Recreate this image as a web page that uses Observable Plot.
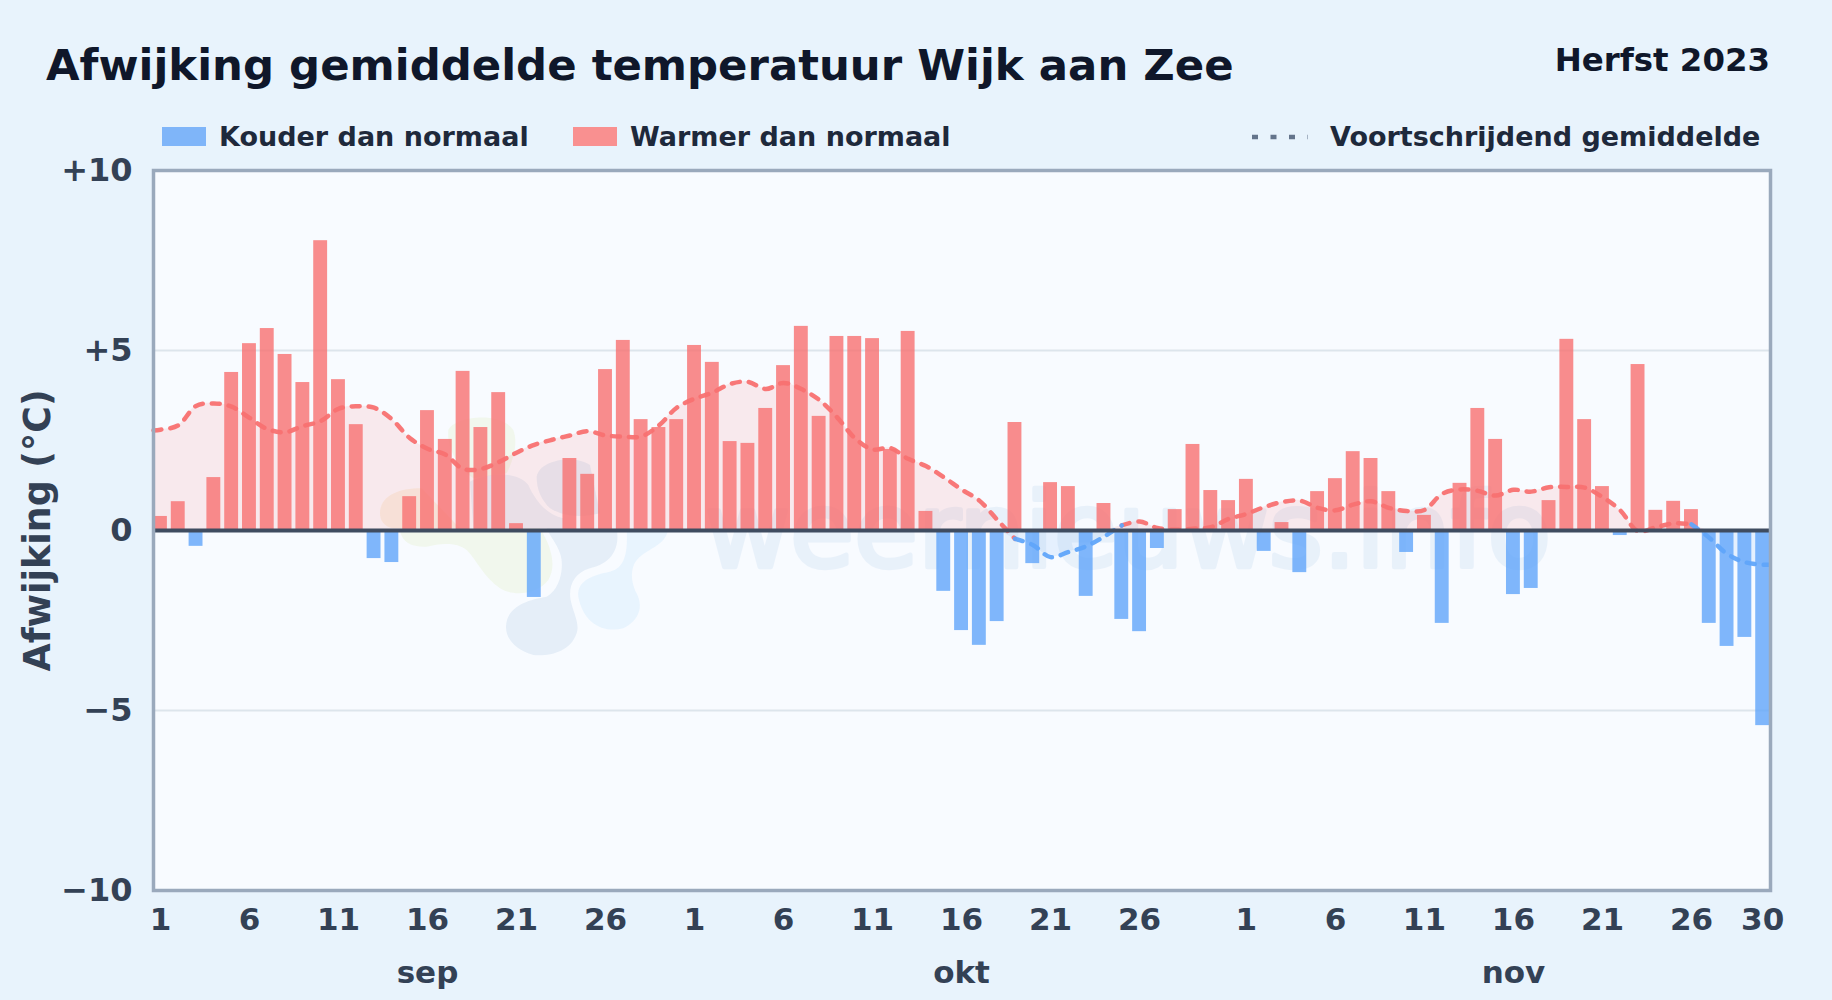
<!DOCTYPE html>
<html><head><meta charset="utf-8">
<script src="https://cdn.jsdelivr.net/npm/d3@7"></script>
<script src="https://cdn.jsdelivr.net/npm/@observablehq/plot@0.6"></script>
<style>
html,body{margin:0;padding:0;width:1832px;height:1000px;overflow:hidden;background:#e8f3fc;font-family:"DejaVu Sans",sans-serif;font-weight:700}
#head{position:relative;height:165px}
#head div,#head span.t{position:absolute;white-space:nowrap}
.sw{position:absolute;top:127px;width:44px;height:19px}
.leg{position:absolute;font-size:27px;line-height:30px;top:122px;color:#1e293b;white-space:nowrap}
svg.plot{display:block}
</style></head><body>
<div id="head">
<div style="left:46px;top:38px;font-size:43.4px;line-height:54px;color:#0f172a">Afwijking gemiddelde temperatuur Wijk aan Zee</div>
<div style="right:62px;top:41px;font-size:32.4px;line-height:38px;color:#0f172a">Herfst 2023</div>
<span class="sw" style="left:162px;background:#7fb5f9"></span><span class="leg" style="left:219px">Kouder dan normaal</span>
<span class="sw" style="left:573px;background:#f99090"></span><span class="leg" style="left:630px">Warmer dan normaal</span>
<svg width="60" height="10" style="position:absolute;left:1250px;top:132px"><line x1="2" x2="58" y1="5" y2="5" stroke="#64748b" stroke-width="4.5" stroke-dasharray="6 12.5"/></svg>
<span class="leg" style="left:1330px">Voortschrijdend gemiddelde</span>
</div>
<div id="chart"></div>
<script>
const deviations = [0.39,0.80,-0.44,1.47,4.39,5.19,5.61,4.89,4.11,8.05,4.19,2.94,-0.78,-0.89,0.94,3.33,2.53,4.42,2.86,3.83,0.19,-1.86,0,2.00,1.56,4.47,5.28,3.08,2.86,3.08,
5.14,4.67,2.47,2.42,3.39,4.58,5.67,3.17,5.39,5.39,5.33,2.25,5.53,0.53,-1.69,-2.78,-3.19,-2.53,3.00,-0.92,1.33,1.22,-1.83,0.75,-2.47,-2.81,-0.50,0.58,2.39,1.11,0.83,
1.42,-0.58,0.22,-1.17,1.08,1.44,2.19,2.00,1.08,-0.61,0.42,-2.58,1.31,3.39,2.53,-1.78,-1.61,0.83,5.31,3.08,1.22,-0.14,4.61,0.56,0.81,0.58,-2.58,-3.22,-2.97,-5.42];
const movingAverage = [2.78,2.80,2.92,3.46,3.53,3.44,3.13,2.82,2.73,2.90,3.04,3.38,3.45,3.41,3.09,2.57,2.27,2.11,1.71,1.71,1.90,2.16,2.38,2.52,2.64,2.76,2.64,2.61,2.61,2.92,3.41,
3.66,3.83,4.07,4.13,3.93,4.10,3.93,3.63,3.15,2.57,2.25,2.29,1.99,1.79,1.48,1.14,0.83,0.30,-0.23,-0.40,-0.74,-0.60,-0.44,-0.17,0.14,0.25,0.07,0.02,0.05,0.09,0.32,
0.46,0.65,0.79,0.83,0.63,0.56,0.72,0.81,0.63,0.54,0.57,1.02,1.14,1.10,0.97,1.13,1.08,1.20,1.21,1.19,0.93,0.56,-0.02,0.09,0.20,0.17,-0.20,-0.65,-0.88,-0.95,-0.95];
const xTicks = [0,5,10,15,20,25,30,35,40,45,50,55,61,66,71,76,81,86,90];
const xLabels = ["1","6","11","16","21","26","1","6","11","16","21","26","1","6","11","16","21","26","30"];
const monthTicks = [15,45,76];
const monthLabels = ["sep","okt","nov"];
const yTicks = [-10,-5,0,5,10];
const yLabels = ["−10","−5","0","+5","+10"];
const coldSpans = [[48,54],[86,91]];
const warmSpans = [[-1,48],[54,86]];

const WARM="#f87171", COLD="#60a5fa", half=0.39;
const bars = deviations.map((v,i)=>({i,v}));
const maX = i => i===0 ? -half : i===movingAverage.length-1 ? 90+half : i-1;
const ma = movingAverage.map((v,k)=>({k,x:maX(k),v}));
const seg = (spans)=>spans.flatMap(([a,b],s)=>ma.filter(d=>d.x>=a&&d.x<=b).map(d=>({...d,s})));

const logo = () => {
  const g=document.createElementNS("http://www.w3.org/2000/svg","g");
  g.setAttribute("transform","translate(360,235) scale(0.3333)");
  g.innerHTML=`
  <path fill="#a3c91a" opacity=".08" d="M265 90C280 50 420 30 460 90C475 130 460 180 440 220L340 235C290 200 260 140 265 90Z"/>
  <path fill="#a3c91a" opacity=".08" d="M120 390C125 430 160 442 200 440C240 430 290 425 320 450C350 480 370 530 420 565C460 590 530 585 565 540C590 500 575 440 540 385Z"/>
  <path fill="#f59e0b" opacity=".10" d="M60 340C60 290 110 265 185 265L300 385L100 385C70 380 60 360 60 340Z"/>
  <path fill="#2a6cb0" opacity=".09" d="M530 230C540 175 650 165 690 195L720 340C680 350 620 355 570 325C545 300 530 270 530 230Z"/>
  <path fill="#2a6cb0" opacity=".08" d="M330 245C380 220 470 210 505 255C525 300 560 345 610 355L610 385L340 385Z"/>
  <path fill="#2a6cb0" opacity=".09" d="M438 680C440 620 500 600 560 590C600 570 615 500 600 460C590 430 570 410 560 385L770 385C780 440 760 490 690 505C640 520 625 560 632 600C640 640 660 670 650 700C630 760 560 770 520 765C470 750 438 720 438 680Z"/>
  <path fill="#38a8f0" opacity=".08" d="M655 590C650 540 700 525 750 515C790 505 805 470 800 385L925 385C920 430 880 440 840 470C810 495 810 540 830 580C850 620 840 660 790 685C730 700 670 670 655 590Z"/>`;
  return g;
};

const plot = Plot.plot({
  width:1832, height:835, marginLeft:153, marginRight:62, marginTop:5, marginBottom:110,
  style:{fontFamily:"'DejaVu Sans',sans-serif",fontWeight:700,background:"transparent",overflow:"visible"},
  x:{type:"linear",domain:[-half,90.44]},
  y:{domain:[-10,10]},
  marks:[
    Plot.frame({fill:"#f8fbff",stroke:"none"}),
    Plot.text(["weernieuws.info"],{frameAnchor:"middle",dx:166,dy:3,fontSize:104,fontWeight:400,fill:"#2a7ac9",stroke:"#2a7ac9",strokeWidth:4.5,opacity:.07,textAnchor:"middle",lineAnchor:"middle"}),
    logo,
    Plot.ruleY([-5,5],{stroke:"#dde5ec",strokeWidth:2}),
    Plot.areaY(ma,{x:"x",y1:0,y2:d=>Math.max(0,d.v),fill:WARM,fillOpacity:.13,curve:"catmull-rom"}),
    Plot.areaY(ma,{x:"x",y1:0,y2:d=>Math.min(0,d.v),fill:COLD,fillOpacity:.12,curve:"catmull-rom"}),
    Plot.rectY(bars,{x1:d=>d.i-half,x2:d=>d.i+half,y1:0,y2:"v",fill:d=>d.v<0?COLD:WARM,fillOpacity:.8}),
    Plot.line(seg(warmSpans),{x:"x",y:"v",z:"s",stroke:WARM,strokeWidth:4.5,strokeDasharray:"8,9",strokeLinecap:"round",strokeOpacity:.95,curve:"catmull-rom"}),
    Plot.line(seg(coldSpans),{x:"x",y:"v",z:"s",stroke:COLD,strokeWidth:4.5,strokeDasharray:"8,9",strokeLinecap:"round",strokeOpacity:.95,curve:"catmull-rom"}),
    Plot.ruleY([0],{stroke:"#3f4c60",strokeWidth:4}),
    Plot.frame({stroke:"#9aa9bc",strokeWidth:3.5,fill:"none"}),
    Plot.axisY({ticks:yTicks,tickFormat:v=>yLabels[yTicks.indexOf(v)],tickSize:0,tickPadding:21,fontSize:32,fill:"#334155",label:null}),
    Plot.axisX({ticks:xTicks,tickFormat:v=>xLabels[xTicks.indexOf(v)],tickSize:0,tickPadding:17,fontSize:31,fill:"#334155",label:null}),
    Plot.axisX({ticks:monthTicks,tickFormat:v=>monthLabels[monthTicks.indexOf(v)],tickSize:0,tickPadding:70,fontSize:31,fill:"#334155",label:null}),
    Plot.text(["Afwijking (°C)"],{frameAnchor:"left",dx:-115,rotate:-90,fontSize:36.4,fill:"#334155",textAnchor:"middle",lineAnchor:"middle"})
  ]
});
document.getElementById("chart").append(plot);
</script>
</body></html>
